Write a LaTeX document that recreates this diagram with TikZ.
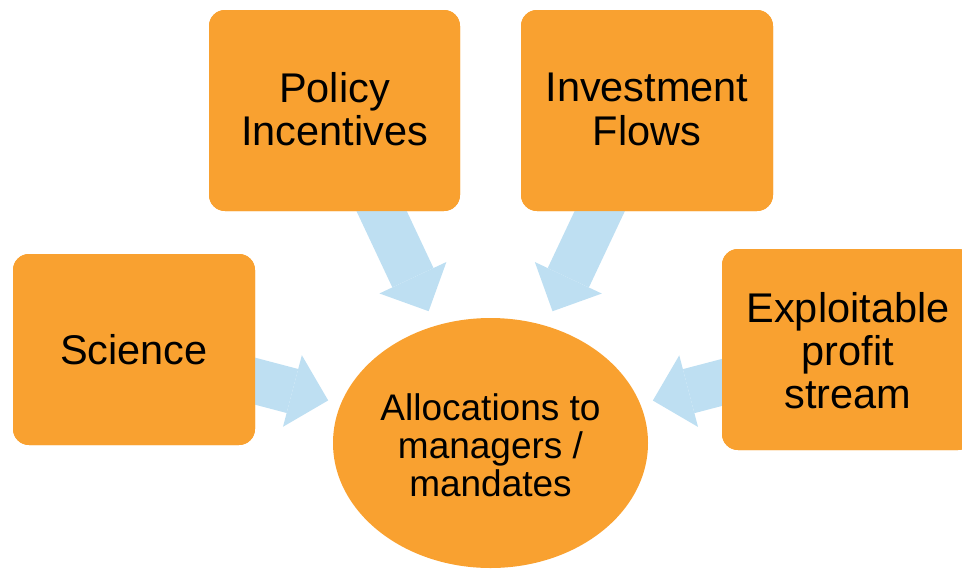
\documentclass[tikz,border=0pt]{standalone}
\usepackage{fontspec}
\setmainfont{Liberation Sans}
\usetikzlibrary{shapes.geometric,arrows.meta}

\definecolor{boxorange}{RGB}{249,161,48}
\definecolor{flowblue}{RGB}{190,223,242}

\tikzset{
  card/.style={fill=boxorange, draw=none, rounded corners=16pt, inner sep=0pt},
  hub/.style={ellipse, fill=boxorange, draw=none, inner sep=0pt,
    minimum width=315pt, minimum height=250pt},
  cardtext/.style={align=center, inner sep=0pt, text=black,
    font=\fontsize{41.5}{43.4}\selectfont},
  hubtext/.style={align=center, inner sep=0pt, text=black,
    font=\fontsize{37}{38.3}\selectfont},
  flow/.style={draw=flowblue, line width=45.5pt, line cap=butt,
    -{Triangle[length=37pt, width=74pt, line width=0pt]},
    shorten <=-30pt}
}

\begin{document}
\begin{tikzpicture}[x=1pt, y=-1pt]
  \useasboundingbox (0,0) rectangle (962,571);
  \clip (0,0) rectangle (962,571);

  % the four sources and the central allocation ellipse
  \node[card, minimum width=242pt, minimum height=191pt] (science) at (134,349.5) {};
  \node[card, minimum width=251pt, minimum height=201pt] (policy) at (334.5,110.5) {};
  \node[card, minimum width=252pt, minimum height=201pt] (invest) at (647,110.5) {};
  \node[card, minimum width=252pt, minimum height=201pt] (profit) at (848,349.5) {};
  \node[hub] (alloc) at (490.5,443) {};

  % block arrows feeding the allocation
  \draw[flow, shorten >=13pt] (science) -- (alloc);
  \draw[flow, shorten >=16pt] (policy) -- (alloc);
  \draw[flow, shorten >=16pt] (invest) -- (alloc);
  \draw[flow, shorten >=13pt] (profit) -- (alloc);

  % redraw the boxes over the arrow stems
  \node[card, minimum width=242pt, minimum height=191pt] at (science) {};
  \node[card, minimum width=251pt, minimum height=201pt] at (policy) {};
  \node[card, minimum width=252pt, minimum height=201pt] at (invest) {};
  \node[card, minimum width=252pt, minimum height=201pt] at (profit) {};

  % labels
  \node[cardtext] (science-t) at (134,350) {Science};
  \node[cardtext] (policy-t) at (334.5,109.3) {Policy\\Incentives};
  \node[cardtext] (invest-t) at (647,109.5) {Investment\\Flows};
  \node[cardtext] (profit-t) at (848,350.7) {Exploitable\\profit\\stream};
  \node[hubtext] (alloc-t) at (490.5,445.4) {Allocations to\\managers /\\mandates};
\end{tikzpicture}
\end{document}
